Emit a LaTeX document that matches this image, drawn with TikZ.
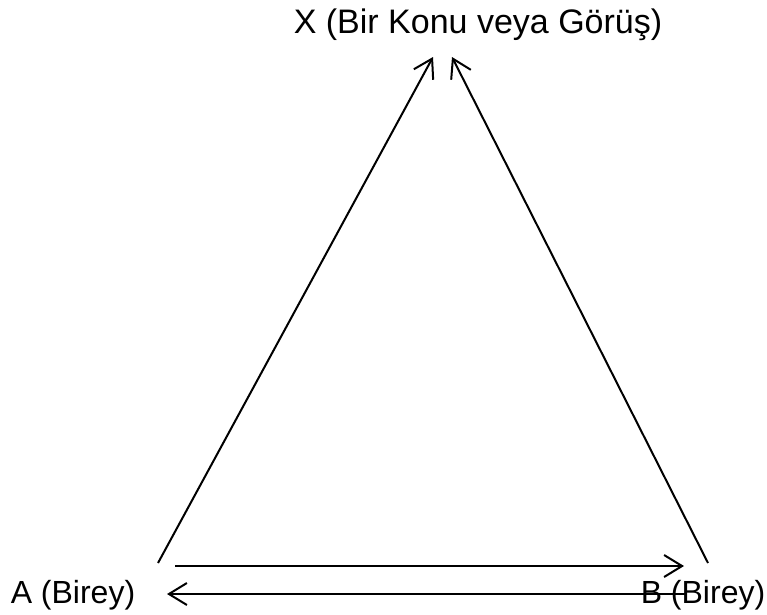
\documentclass[tikz,border=0pt]{standalone}
\usepackage{fontspec}
\setmainfont{Liberation Sans}
\usetikzlibrary{arrows.meta}
\begin{document}
\begin{tikzpicture}[x=1pt,y=-1pt,
  lbl/.style={inner sep=0pt, anchor=base, font=\fontsize{32}{38}\selectfont},
  conn/.style={line width=2pt, -{Straight Barb[length=18pt,width=22pt,line width=2pt]}}]
\useasboundingbox (0,0) rectangle (767,614);
\node[lbl, font=\fontsize{34}{40}\selectfont] (X) at (478,33) {X (Bir Konu veya Görüş)};
\node[lbl] (A) at (73,603) {A (Birey)};
\node[lbl] (B) at (703,603) {B (Birey)};
\coordinate (aUp) at (158,563);
\coordinate (xL) at (433,57);
\coordinate (bUp) at (708,563);
\coordinate (xR) at (452,57);
\coordinate (abS) at (175,566);
\coordinate (abE) at (684,566);
\coordinate (baS) at (685,594);
\coordinate (baE) at (167,594);
\draw[conn] (aUp) -- (xL);
\draw[conn] (bUp) -- (xR);
\draw[conn] (abS) -- (abE);
\draw[conn] (baS) -- (baE);
\end{tikzpicture}
\end{document}
